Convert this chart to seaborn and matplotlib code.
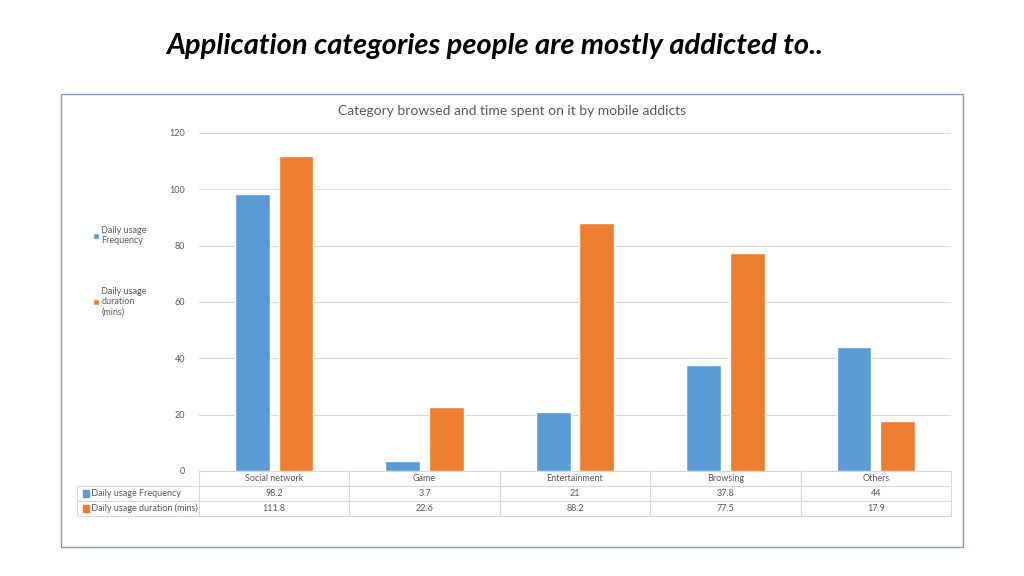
import numpy as np
import pandas as pd
import matplotlib
matplotlib.use("Agg")
import matplotlib.pyplot as plt
import seaborn as sns
from matplotlib.patches import Rectangle, Patch

categories = ["Social network", "Game", "Entertainment", "Browsing", "Others"]
freq = [98.2, 3.7, 21, 37.8, 44]
duration = [111.8, 22.6, 88.2, 77.5, 17.9]
series_names = ["Daily usage Frequency", "Daily usage duration (mins)"]
legend_labels = ["Daily usage\nFrequency", "Daily usage\nduration\n(mins)"]
colors = ["#5B9BD5", "#ED7D31"]
yticks = [0, 20, 40, 60, 80, 100, 120]

sns.set_style("white")
plt.rcParams["font.family"] = ["Lato", "DejaVu Sans"]

df = pd.DataFrame({
    "category": categories * 2,
    "value": freq + duration,
    "series": [series_names[0]] * 5 + [series_names[1]] * 5,
})

fig = plt.figure(figsize=(10.24, 5.76), dpi=100)
ax = fig.add_axes([0.1943, 0.1823, 0.7344, 0.5868])

sns.barplot(data=df, x="category", y="value", hue="series", order=categories,
            hue_order=series_names, palette=colors, width=0.58, gap=0.2,
            saturation=1, ax=ax, legend=False)

ax.set_xlim(-0.5, 4.5)
ax.set_ylim(0, 120)
ax.set_yticks(yticks)
ax.set_yticklabels([str(t) for t in yticks], fontsize=6.5, color="#595959")
ax.tick_params(axis="y", length=0, pad=10)
ax.set_xticks([])
ax.set_xlabel("")
ax.set_ylabel("")
ax.grid(axis="y", color="#D9D9D9", linewidth=0.8)
ax.set_axisbelow(True)
for s in ax.spines.values():
    s.set_visible(False)

# data table under the bars (first column holds the series names)
row_w = 122 / 752
cell_text = [[" " + series_names[0]] + [f"{v:g}" for v in freq],
             [" " + series_names[1]] + [f"{v:g}" for v in duration]]
tbl = ax.table(cellText=cell_text, colLabels=[""] + categories,
               colWidths=[row_w] + [0.2] * 5, cellLoc="center",
               bbox=[-row_w, -45 / 338, 1 + row_w, 45 / 338])
tbl.auto_set_font_size(False)
tbl.set_fontsize(6.5)
for (r, c), cell in tbl.get_celld().items():
    cell.set_edgecolor("#D9D9D9")
    cell.set_linewidth(0.8)
    cell.get_text().set_color("#595959")
    if c == 0:
        cell._loc = "left"
        cell.get_text().set_ha("left")
tbl[(0, 0)].set_linewidth(0)
tbl[(0, 0)].set_edgecolor("none")
for i, col in enumerate(colors):
    ax.add_patch(Rectangle((-row_w + 0.0075, -(22.5 + 15 * i) / 338 - 0.0095), 0.009, 0.019,
                           transform=ax.transAxes, color=col, clip_on=False))

# legend on the left
handles = [Patch(facecolor=c) for c in colors]
fig.legend(handles, legend_labels, loc="upper left", bbox_to_anchor=(0.083, 0.622),
           frameon=False, fontsize=6.5, handlelength=0.6, handleheight=0.6,
           handletextpad=0.3, labelspacing=4.6, labelcolor="#595959")

fig.text(0.5, 0.807, "Category browsed and time spent on it by mobile addicts",
         ha="center", va="center", fontsize=10, color="#595959")
fig.text(0.483, 0.92, "Application categories people are mostly addicted to..",
         ha="center", va="center", fontsize=21, fontweight="bold", style="italic",
         color="black")

fig.add_artist(Rectangle((0.0596, 0.0503), 0.881, 0.786, transform=fig.transFigure,
                         fill=False, edgecolor="#7F9DB9", linewidth=1))

fig.savefig("out.png", dpi=100)
